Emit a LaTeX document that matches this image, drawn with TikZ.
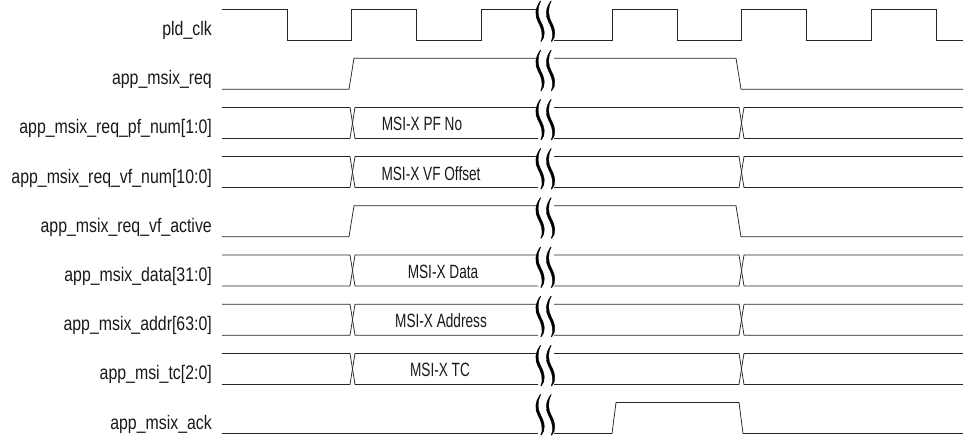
\documentclass[tikz,border=0pt]{standalone}
\usepackage{fontspec}
\setmainfont{Liberation Sans}[FakeStretch=0.81]
\newfontfamily\busfont{Liberation Sans}[FakeStretch=0.71]
\begin{document}
\begin{tikzpicture}[x=1pt,y=-1pt,
  sig/.style={line width=0.75pt, black!85, line join=miter},
  lbl/.style={anchor=base east, inner sep=0pt, font=\fontsize{19.6}{22}\selectfont, text=black!90},
  bustxt/.style={anchor=base, inner sep=0pt, font=\busfont\fontsize{19.2}{21}\selectfont, text=black!90},
  brkfill/.style={fill=black, draw=black, line width=0.3pt}]
\useasboundingbox[fill=white] (0,0) rectangle (963,436);
% break symbol: two tapered S-shaped strokes
\newcommand{\brkmark}[2]{%
  \foreach \bx in {539.5,550}{%
    \filldraw[brkfill] (\bx+0.8,#1-8)
       .. controls (\bx-4.5,#1-1) and (\bx-5,#1+7) .. (\bx-1.4,#1+13)
       .. controls (\bx+2.6,#1+20) and (\bx+3.8,#1+28) .. (\bx+1.2,#2+1.5)
       -- (\bx+1.8,#2+1.5)
       .. controls (\bx+6.3,#1+28) and (\bx+5.4,#1+20) .. (\bx+1.4,#1+13)
       .. controls (\bx-2,#1+7) and (\bx-2.5,#1-1) .. (\bx+1.3,#1-8) -- cycle;
  }}
% ---------- labels
\node[lbl] (l0) at (212,40-4.5) {pld\_clk};
\node[lbl] (l1) at (212,89.2-4.5) {app\_msix\_req};
\node[lbl] (l2) at (212,138.4-4.5) {app\_msix\_req\_pf\_num[1:0]};
\node[lbl] (l3) at (212,187.6-4.5) {app\_msix\_req\_vf\_num[10:0]};
\node[lbl] (l4) at (212,236.8-4.5) {app\_msix\_req\_vf\_active};
\node[lbl] (l5) at (212,286-4.5) {app\_msix\_data[31:0]};
\node[lbl] (l6) at (212,335.2-4.5) {app\_msix\_addr[63:0]};
\node[lbl] (l7) at (212,384.4-4.5) {app\_msi\_tc[2:0]};
\node[lbl] (l8) at (212,433.6-4.5) {app\_msix\_ack};
% ---------- clock
\draw[sig] (222,9)--(287,9)--(287,40)--(351,40)--(351,9)--(416,9)--(416,40)--(481,40)--(481,9)--(538,9);
\draw[sig] (554,40)--(612,40)--(612,9)--(677,9)--(677,40)--(741,40)--(741,9)--(806,9)--(806,40)--(871,40)--(871,9)--(936,9)--(936,40)--(963,40);
\brkmark{9}{40}
% ---------- single-bit pulses (req, vf_active)
\foreach \t in {58.2,205.8}{
  \pgfmathsetmacro\b{\t+31}
  \draw[sig] (222,\b)--(349,\b)--(354,\t)--(538,\t);
  \draw[sig] (554,\t)--(736,\t)--(741,\b)--(963,\b);
  \brkmark{\t}{\b}
}
% ---------- buses
\foreach \t in {107.4,156.6,255,304.2,353.4}{
  \pgfmathsetmacro\b{\t+31}
  \draw[sig] (222,\t)--(350,\t)--(355,\b)--(538,\b);
  \draw[sig] (222,\b)--(350,\b)--(355,\t)--(538,\t);
  \draw[sig] (554,\t)--(739,\t)--(744,\b)--(963,\b);
  \draw[sig] (554,\b)--(739,\b)--(744,\t)--(963,\t);
  \brkmark{\t}{\b}
}
\node[bustxt] (b2) at (422,138.4-7.5) {MSI-X PF No};
\node[bustxt] (b3) at (431,187.6-7.5) {MSI-X VF Offset};
\node[bustxt] (b5) at (443,286-7.5) {MSI-X Data};
\node[bustxt] (b6) at (441,335.2-7.5) {MSI-X Address};
\node[bustxt] (b7) at (440,384.4-7.5) {MSI-X TC};
% ---------- ack
\draw[sig] (222,433.6)--(538,433.6);
\draw[sig] (554,433.6)--(612,433.6)--(616,402.6)--(739,402.6)--(743,433.6)--(963,433.6);
\brkmark{402.6}{433.6}
\end{tikzpicture}
\end{document}
